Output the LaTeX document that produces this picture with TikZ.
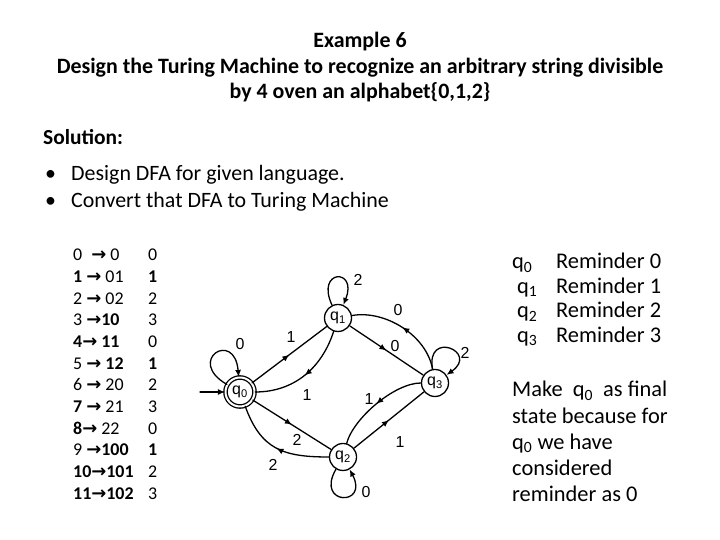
\documentclass[tikz,border=0pt]{standalone}
\usepackage{fontspec}
\setmainfont{Carlito}
\newfontfamily\diagfont{Liberation Sans}
\newfontfamily\arrowfont{DejaVu Sans}
\usepackage{tikz}
\usetikzlibrary{arrows.meta,decorations.markings}
\newcommand\tmarrow{{\arrowfont\bfseries →}}
\tikzset{
  every picture/.style={line join=round, line cap=round, >={Latex[length=7bp,width=6bp]}},
  titletext/.style={anchor=base, inner sep=0pt, font=\bfseries\fontsize{22}{25}\selectfont},
  headtext/.style={anchor=base west, inner sep=0pt, font=\bfseries\fontsize{21.5}{25}\selectfont},
  bodytext/.style={anchor=base west, inner sep=0pt, font=\fontsize{22}{26}\selectfont},
  tabletext/.style={anchor=base west, inner sep=0pt, font=\fontsize{18}{22}\selectfont},
  sidetext/.style={anchor=base west, inner sep=0pt, font=\fontsize{22.5}{26}\selectfont},
  dfastate/.style={circle, draw, fill=white, line width=1.3bp, minimum size=27bp, inner sep=0pt, font=\diagfont\fontsize{16}{16}\selectfont},
  finalstate/.style={double, double distance=2bp, minimum size=29bp},
  link/.style={line width=1.3bp},
  midarrow/.style={postaction={decorate}, decoration={markings, mark=at position 0.5 with {\arrow{Latex[length=7bp,width=6bp]}}}},
  edgelabel/.style={inner sep=0pt, font=\diagfont\fontsize{16}{16}\selectfont},
}

\begin{document}
\begin{tikzpicture}[x=1bp,y=1bp]
\useasboundingbox (0,0) rectangle (720,540);
\node[titletext] (title1) at (360,492) {Example 6};
\node[titletext] (title2) at (360,466) {Design the Turing Machine to recognize an arbitrary string divisible};
\node[titletext] (title3) at (360,441) {by 4 oven an alphabet\{0,1,2\}};
\node[headtext] (solution) at (43,395) {Solution:};
\node[bodytext] (bullet1) at (45,359) {\textbullet};
\node[bodytext] (step1) at (71,359) {Design DFA for given language.};
\node[bodytext] (bullet2) at (45,332) {\textbullet};
\node[bodytext] (step2) at (71,332) {Convert that DFA to Turing Machine};
\foreach \lhs/\rhs [count=\i from 0] in {{0\enspace\tmarrow\ 0}/{0},{\textbf{1} \tmarrow\ 01}/{\textbf{1}},{2 \tmarrow\ 02}/{2},{3 \tmarrow\textbf{10}}/{3},{\textbf{4}\tmarrow\ \textbf{11}}/{0},{5 \tmarrow\ \textbf{12}}/{\textbf{1}},{6 \tmarrow\ 20}/{2},{\textbf{7} \tmarrow\ 21}/{3},{\textbf{8}\tmarrow\ 22}/{0},{9 \tmarrow\textbf{100}}/{\textbf{1}},{\textbf{10}\tmarrow\textbf{101}}/{2},{\textbf{11}\tmarrow\textbf{102}}/{3}} {
  \node[tabletext] (lhs\i) at (73,279-21.64*\i) {\lhs};
  \node[tabletext] (rem\i) at (148,279-21.64*\i) {\rhs};
}
\foreach \i/\x/\y in {0/512/271,1/517/246.5,2/517/222,3/517/197.5} {
  \node[sidetext] (name\i) at (\x,\y) {q\textsubscript{\i}};
  \node[sidetext] (reminder\i) at (556,\y) {Reminder \i};
}
\foreach \txt [count=\i from 0] in {{Make\ \ q\textsubscript{0}\ \ as final},{state because for},{q\textsubscript{0} we have},{considered},{reminder as 0}}
  \node[sidetext] (note\i) at (512,143-26.2*\i) {\txt};
\node[dfastate,finalstate] (q0) at (240,148) {q\textsubscript{0}};
\node[dfastate] (q1) at (338,222) {q\textsubscript{1}};
\node[dfastate] (q3) at (435,157) {q\textsubscript{3}};
\node[dfastate] (q2) at (343,83) {q\textsubscript{2}};
\coordinate (start) at (200,148);
\draw[link,->] (start) -- (q0);
\draw[link,midarrow] (q0) -- (q1);
\draw[link,midarrow] (q1) to[out=-108,in=0] (q0);
\draw[link,midarrow] (q1) -- (q3);
\draw[link,midarrow] (q3) to[out=100,in=10,looseness=0.9] (q1);
\draw[link,midarrow] (q0) -- (q2);
\draw[link,midarrow] (q2) to[out=180,in=-70,looseness=1.2] (q0);
\draw[link,midarrow] (q2) -- (q3);
\draw[link,midarrow] (q3) to[out=180,in=75,looseness=0.7] (q2);
\draw[link,->] (q0.150) .. controls +(150:48bp) and +(95:48bp) .. (q0.95);
\draw[link,->] (q1.115) .. controls +(115:40bp) and +(68:40bp) .. (q1.68);
\draw[link,->] (q3.100) .. controls +(100:40bp) and +(35:40bp) .. (q3.35);
\draw[link,->] (q2.-120) .. controls +(-120:42bp) and +(-62:42bp) .. (q2.-62);
\node[edgelabel] (lab00) at (240,196) {0};
\node[edgelabel] (lab11) at (358,260) {2};
\node[edgelabel] (lab33) at (465,187) {2};
\node[edgelabel] (lab22) at (366,48) {0};
\node[edgelabel] (lab01) at (291,203) {1};
\node[edgelabel] (lab10) at (307,145) {1};
\node[edgelabel] (lab13) at (395,194) {0};
\node[edgelabel] (lab31) at (398,230) {0};
\node[edgelabel] (lab02) at (297,100) {2};
\node[edgelabel] (lab20) at (273,75) {2};
\node[edgelabel] (lab23) at (400,98) {1};
\node[edgelabel] (lab32) at (369,141) {1};
\end{tikzpicture}
\end{document}
